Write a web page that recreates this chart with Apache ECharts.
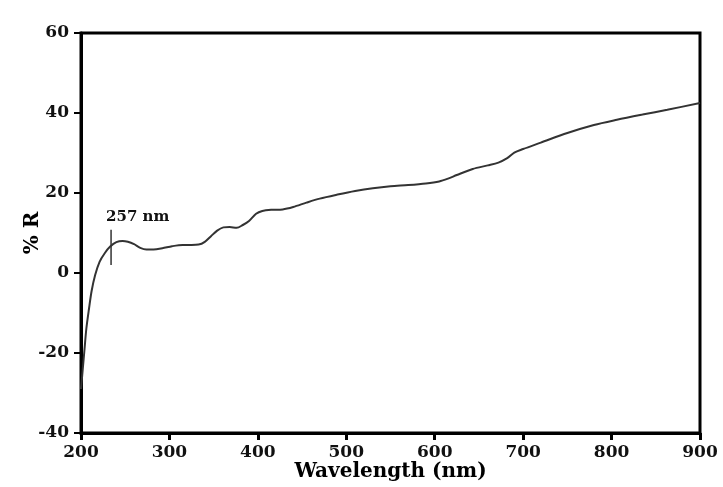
<!DOCTYPE html>
<html>
<head>
<meta charset="utf-8">
<script src="https://cdn.jsdelivr.net/npm/echarts@6/dist/echarts.min.js"></script>
<style>
  html, body { margin: 0; padding: 0; background: #fff; }
  #chart { width: 723px; height: 487px; }
</style>
</head>
<body>
<div id="chart"></div>
<script>
// wavelength (nm) and reflectance (%)
const wavelength = [200, 202, 204, 206, 209, 212, 216, 221, 227, 233, 240, 247, 253, 260, 267, 274, 282, 292, 303, 315, 325, 333, 340, 347, 354, 361, 368, 376, 383, 390, 398, 405, 415, 428, 440, 455, 470, 490, 510, 530, 550, 570, 590, 605, 615, 625, 643, 660, 672, 682, 690, 700, 720, 750, 780, 806, 835, 863, 900]
const reflectance = [-29, -24, -19, -14, -9, -4.5, -0.5, 2.8, 5, 6.6, 7.7, 8, 7.8, 7.2, 6.3, 5.9, 5.9, 6.2, 6.7, 7, 7, 7.1, 7.8, 9.2, 10.6, 11.4, 11.5, 11.3, 12, 13, 14.8, 15.5, 15.8, 15.9, 16.5, 17.6, 18.6, 19.6, 20.5, 21.2, 21.7, 22, 22.4, 22.9, 23.6, 24.5, 26, 26.9, 27.6, 28.7, 30.1, 31, 32.6, 35, 37, 38.3, 39.6, 40.8, 42.5]

// short vertical marker for the band edge
const markerX = [234, 234]
const markerY = [2, 10.8]
const markerText = '257 nm'

const xTicks = [200, 300, 400, 500, 600, 700, 800, 900]
const yTicks = [-40, -20, 0, 20, 40, 60]

const font = 'DejaVu Serif'

const chart = echarts.init(document.getElementById('chart'))
chart.setOption({
  backgroundColor: '#ffffff',
  animation: false,
  grid: {
    left: 81,
    right: 23,
    top: 33,
    bottom: 54,
    outerBoundsMode: 'none',
    show: true,
    borderColor: '#000',
    borderWidth: 3
  },
  xAxis: {
    type: 'value',
    min: xTicks[0],
    max: xTicks[xTicks.length - 1],
    interval: 100,
    name: 'Wavelength (nm)',
    nameLocation: 'middle',
    nameGap: 29,
    nameMoveOverlap: false,
    nameTextStyle: { fontFamily: font, fontWeight: 'bold', fontSize: 20, color: '#000' },
    axisLine: { show: true, onZero: false, lineStyle: { color: '#000', width: 3 } },
    axisTick: { show: true, length: 7, lineStyle: { color: '#000', width: 3 } },
    axisLabel: { fontFamily: font, fontWeight: 'bold', fontSize: 17, color: '#111', margin: 11 },
    splitLine: { show: false }
  },
  yAxis: {
    type: 'value',
    min: yTicks[0],
    max: yTicks[yTicks.length - 1],
    interval: 20,
    name: '% R',
    nameLocation: 'middle',
    nameGap: 38,
    nameMoveOverlap: false,
    nameTextStyle: { fontFamily: font, fontWeight: 'bold', fontSize: 20, color: '#000' },
    axisLine: { show: true, onZero: false, lineStyle: { color: '#000', width: 3 } },
    axisTick: { show: true, length: 7, lineStyle: { color: '#000', width: 2 } },
    axisLabel: { fontFamily: font, fontWeight: 'bold', fontSize: 17, color: '#111', margin: 12 },
    splitLine: { show: false }
  },
  series: [
    {
      type: 'line',
      data: wavelength.map((w, i) => [w, reflectance[i]]),
      smooth: 0.3,
      showSymbol: false,
      lineStyle: { color: '#333', width: 2 }
    },
    {
      type: 'line',
      data: markerX.map((w, i) => [w, markerY[i]]),
      showSymbol: false,
      lineStyle: { color: '#333', width: 1.5 },
      endLabel: {
        show: true,
        formatter: markerText,
        fontFamily: font,
        fontWeight: 'bold',
        fontSize: 15,
        color: '#111',
        offset: [-13, -13]
      }
    }
  ]
})
</script>
</body>
</html>
